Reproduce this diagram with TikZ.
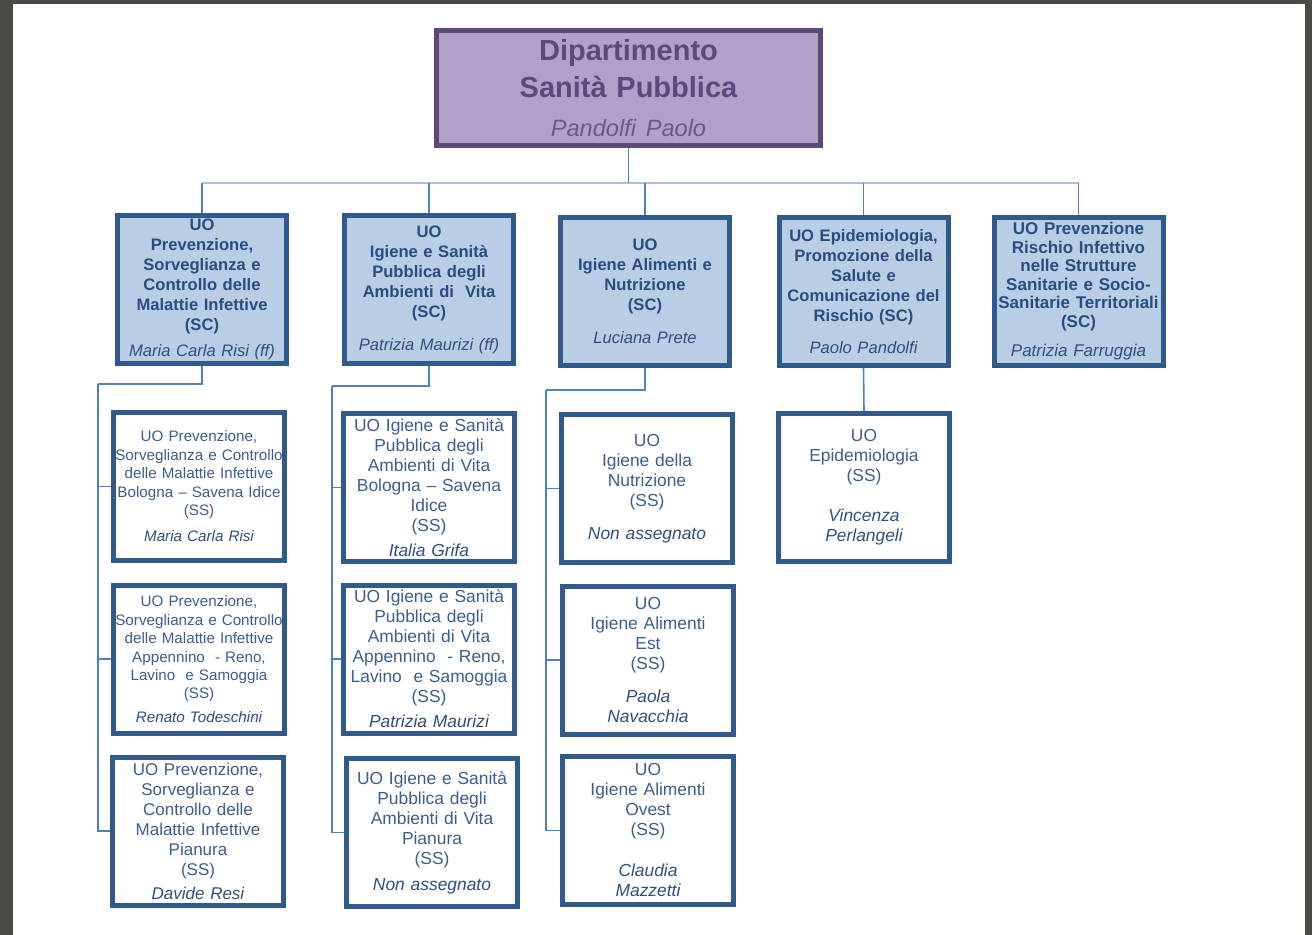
\documentclass[tikz,border=0pt]{standalone}
\usepackage{fontspec}
\setmainfont{Liberation Sans}
\usepackage{tikz}
\usetikzlibrary{positioning}

\definecolor{cornice}{HTML}{4B4A44}
\definecolor{viola}{HTML}{B2A1C7}
\definecolor{violabordo}{HTML}{5F497A}
\definecolor{violatesto}{HTML}{5B4A7C}
\definecolor{violanome}{HTML}{6A5A8A}
\definecolor{azzurro}{HTML}{B9CDE5}
\definecolor{blubordo}{HTML}{30598C}
\definecolor{blutesto}{HTML}{284D7E}
\definecolor{nometesto}{HTML}{2F4F7F}
\definecolor{figliotesto}{HTML}{3D5E8F}
\definecolor{linea}{HTML}{4F81BD}
\definecolor{barra}{HTML}{A9C1DE}

\newcommand{\nome}[1]{{\mdseries\itshape\color{nometesto}#1}}
\newcommand{\largo}[1]{\makebox[\linewidth][c]{#1}}

\begin{document}
\begin{tikzpicture}[x=0.5pt,y=-0.5pt,
		topbox/.style={draw=violabordo,fill=viola,line width=2.5pt,minimum width=192pt,minimum height=57.5pt,
			inner sep=0pt,text width=185pt,align=center,text=violatesto,font=\fontsize{14.5}{18.5}\selectfont\bfseries},
		ucbox/.style={draw=blubordo,fill=azzurro,line width=2.5pt,minimum width=84.5pt,minimum height=74pt,
			inner sep=0pt,text width=81pt,align=center,text=blutesto,font=\fontsize{8.3}{10}\selectfont\bfseries},
		usbox/.style={draw=blubordo,fill=white,line width=2.5pt,minimum width=85.5pt,minimum height=74pt,
			inner sep=0pt,text width=82pt,align=center,text=figliotesto,font=\fontsize{8.7}{10}\selectfont},
		conn/.style={draw=linea,line width=0.8pt},
		busline/.style={draw=barra,line width=1.3pt}]
				\useasboundingbox (0,0) rectangle (1312,935);
				\fill[cornice] (0,0) rectangle (1312,935);
				\fill[white] (13,4) rectangle (1305,935);

				%Nodes
				\node[topbox] (top) at (628.5,88) {Dipartimento\\Sanità Pubblica\\[1pt]{\mdseries\itshape\fontsize{11.8}{14}\selectfont\color{violanome}Pandolfi Paolo}};

				\node[ucbox] (b1) at (202,289.5) {UO\\Prevenzione,\\Sorveglianza e\\Controllo delle\\Malattie Infettive\\(SC)\\[3pt]\nome{Maria Carla Risi (ff)}};
				\node[ucbox] (b2) at (429,289.5) {UO\\Igiene e Sanità\\Pubblica degli\\Ambienti di\ \ Vita\\(SC)\\[6.5pt]\nome{Patrizia Maurizi (ff)}};
				\node[ucbox] (b3) at (645,291.5) {UO\\Igiene Alimenti e\\Nutrizione\\(SC)\\[6.5pt]\nome{Luciana Prete}};
				\node[ucbox] (b4) at (863.5,291.5) {UO Epidemiologia,\\Promozione della\\Salute e\\Comunicazione del\\Rischio (SC)\\[6pt]\nome{Paolo Pandolfi}};
				\node[ucbox,font=\fontsize{8.5}{9.25}\selectfont\bfseries] (b5) at (1078.5,291.5) {UO Prevenzione\\Rischio Infettivo\\nelle Strutture\\Sanitarie e Socio-\\\largo{Sanitarie Territoriali}\\(SC)\\[5.5pt]\nome{Patrizia Farruggia}};

				\node[usbox,font=\fontsize{7.6}{9.2}\selectfont] (c1a) at (199,486.5) {UO Prevenzione,\\\largo{Sorveglianza e Controllo}\\delle Malattie Infettive\\\largo{Bologna – Savena Idice}\\(SS)\\[4pt]\nome{Maria Carla Risi}};
				\node[usbox,font=\fontsize{7.6}{9.2}\selectfont] (c1b) at (199,659) {UO Prevenzione,\\\largo{Sorveglianza e Controllo}\\delle Malattie Infettive\\Appennino\ \ - Reno,\\Lavino\ \ e Samoggia\\(SS)\\[2.4pt]\nome{Renato Todeschini}};
				\node[usbox,font=\fontsize{8.5}{10}\selectfont] (c1c) at (198,831) {UO Prevenzione,\\Sorveglianza e\\Controllo delle\\Malattie Infettive\\Pianura\\(SS)\\[2pt]\nome{Davide Resi}};

				\node[usbox] (c2a) at (429,487.5) {UO Igiene e Sanità\\Pubblica degli\\Ambienti di Vita\\Bologna – Savena\\Idice\\(SS)\\[2.5pt]\nome{Italia Grifa}};
				\node[usbox] (c2b) at (429,659) {UO Igiene e Sanità\\Pubblica degli\\Ambienti di Vita\\Appennino\ \ - Reno,\\Lavino\ \ e Samoggia\\(SS)\\[2.5pt]\nome{Patrizia Maurizi}};
				\node[usbox] (c2c) at (432,832.5) {UO Igiene e Sanità\\Pubblica degli\\Ambienti di Vita\\Pianura\\(SS)\\[3pt]\nome{Non assegnato}};

				\node[usbox] (c3a) at (647,488.5) {UO\\Igiene della\\Nutrizione\\(SS)\\[6.5pt]\nome{Non assegnato}};
				\node[usbox] (c3b) at (648,660) {UO\\Igiene Alimenti\\Est\\(SS)\\[6.5pt]\nome{Paola}\\\nome{Navacchia}};
				\node[usbox] (c3c) at (648,830.5) {UO\\Igiene Alimenti\\Ovest\\(SS)\\[10.5pt]\nome{Claudia}\\\nome{Mazzetti}};

				\node[usbox] (c4a) at (864,487.5) {UO\\Epidemiologia\\(SS)\\[10pt]\nome{Vincenza}\\\nome{Perlangeli}};

				\coordinate      (bus) 	at 	(628,183);
				\coordinate      (j1) 	at 	(98,384);
				\coordinate      (j2) 	at 	(332,386);
				\coordinate      (j3) 	at 	(546,390);

				%Lines
				\draw[busline] (b1.north |- bus) -- (b5.north |- bus);
				\draw[conn] (top.south) -- (top.south |- bus);
				\foreach \b in {b1,b2,b3,b4,b5}
					\draw[conn] (\b.north |- bus) -- (\b.north);

				\draw[conn] (b1.south) |- (j1);
				\foreach \c in {c1a,c1b,c1c}
					\draw[conn] (j1) |- (\c.west);
				\draw[conn] (b2.south) |- (j2);
				\foreach \c in {c2a,c2b,c2c}
					\draw[conn] (j2) |- (\c.west);
				\draw[conn] (b3.south) |- (j3);
				\foreach \c in {c3a,c3b,c3c}
					\draw[conn] (j3) |- (\c.west);
				\draw[conn] (b4.south) -- (c4a.north);

		\end{tikzpicture}
\end{document}
